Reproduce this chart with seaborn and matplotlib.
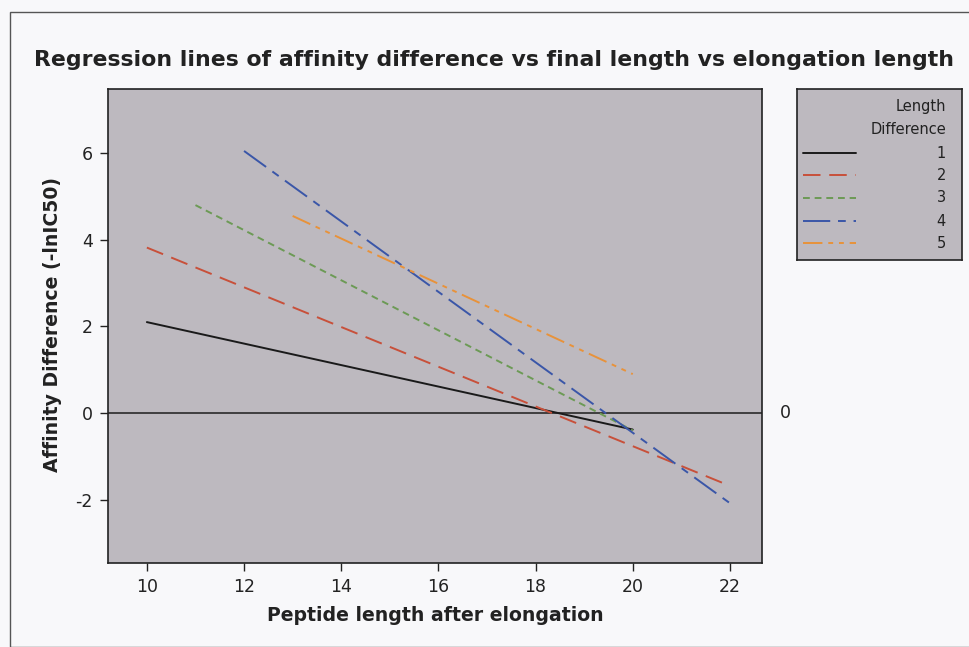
import matplotlib
matplotlib.use("Agg")
import matplotlib.pyplot as plt
import seaborn as sns
import pandas as pd
from matplotlib.patches import Rectangle

# ---- data ----
groups = ["1", "2", "3", "4", "5"]
x_start = [10, 10, 11, 12, 13]
x_end = [20, 22, 20, 22, 20]
y_start = [2.10, 3.82, 4.80, 6.05, 4.55]
y_end = [-0.38, -1.68, -0.40, -2.08, 0.90]
colors = ["#1a1a1a", "#c8503a", "#6c9a55", "#3a56a8", "#e8923a"]
x_ticks = [10, 12, 14, 16, 18, 20, 22]
y_ticks = [-2, 0, 2, 4, 6]

rows = []
for g, xs, xe, ys, ye in zip(groups, x_start, x_end, y_start, y_end):
    rows.append({"len": xs, "aff": ys, "grp": g})
    rows.append({"len": xe, "aff": ye, "grp": g})
df = pd.DataFrame(rows)

sns.set_theme(style="white")
plt.rcParams["font.family"] = ["DejaVu Sans"]

fig = plt.figure(figsize=(9.69, 6.47), dpi=100)
fig.patch.set_facecolor("#f8f8fa")

W, H = 969, 647
txt = "#222222"
# outer frame
fig.patches.append(Rectangle((10 / W, 0), 1.0, 1 - 12 / H, transform=fig.transFigure,
                             fill=False, edgecolor="#555555", linewidth=1.0))

ax = fig.add_axes([108 / W, 1 - 563 / H, (762 - 108) / W, (563 - 89) / H])
bg = "#bdb9bf"
ax.set_facecolor(bg)

dashes = {"1": "", "2": (9, 4.5), "3": (3.5, 2.5), "4": (14, 4, 4, 4),
          "5": (10, 3, 2.5, 3, 2.5, 3)}
palette = dict(zip(groups, colors))
lw = 1.4

sns.lineplot(data=df, x="len", y="aff", hue="grp", style="grp", palette=palette,
             dashes=dashes, linewidth=lw, ax=ax, legend=False, estimator=None, sort=False)

ax.axhline(0, color="#2a2a2a", linewidth=1.2, zorder=0.5)

ax.set_xlim(9.2, 22.66)
ax.set_ylim(-3.46, 7.48)
ax.set_xticks(x_ticks)
ax.set_yticks(y_ticks)
ax.set_xticklabels([str(t) for t in x_ticks], fontsize=12.5, color=txt)
ax.set_yticklabels([str(t) for t in y_ticks], fontsize=12.5, color=txt)
ax.tick_params(axis="both", direction="out", length=6, width=1, color=txt,
               bottom=True, left=True, pad=5)
for s in ax.spines.values():
    s.set_color(txt)
    s.set_linewidth(1.2)

ax.set_xlabel("Peptide length after elongation", fontsize=13.6, fontweight="bold", color=txt)
ax.set_ylabel("Affinity Difference (-lnIC50)", fontsize=13.6, fontweight="bold", color=txt)
ax.xaxis.set_label_coords((435 - 108) / (762 - 108), (563 - 606) / (563 - 89))
ax.yaxis.set_label_coords((62 - 108) / (762 - 108), (563 - 325) / (563 - 89))

# reference line label on right
ax.text(1.035, 0, "0", transform=ax.get_yaxis_transform(), fontsize=12.5,
        color=txt, va="center", ha="center")

fig.text(0.5 * (33 + 955) / W, 1 - 60 / H,
         "Regression lines of affinity difference vs final length vs elongation length",
         fontsize=15.8, fontweight="bold", color=txt, ha="center", va="center")

# legend drawn in its own small axes
lx0, lx1, ly0, ly1 = 797, 962, 89, 260
lax = fig.add_axes([lx0 / W, 1 - ly1 / H, (lx1 - lx0) / W, (ly1 - ly0) / H])
lax.set_facecolor(bg)
lax.set_xlim(lx0, lx1)
lax.set_ylim(ly1, ly0)
lax.set_xticks([])
lax.set_yticks([])
for s in lax.spines.values():
    s.set_color(txt)
    s.set_linewidth(1.2)
lax.text(946, 106, "Length", fontsize=10.5, color=txt, ha="right", va="center")
lax.text(946, 129, "Difference", fontsize=10.5, color=txt, ha="right", va="center")
row_y = [153, 175, 198, 221, 243]
for g, c, yy in zip(groups, colors, row_y):
    ln, = lax.plot([803, 856], [yy, yy], color=c, linewidth=lw)
    if dashes[g]:
        ln.set_dashes(dashes[g])
    lax.text(946, yy, g, fontsize=10.5, color=txt, ha="right", va="center")

fig.savefig("out.png", dpi=100, facecolor=fig.get_facecolor())
